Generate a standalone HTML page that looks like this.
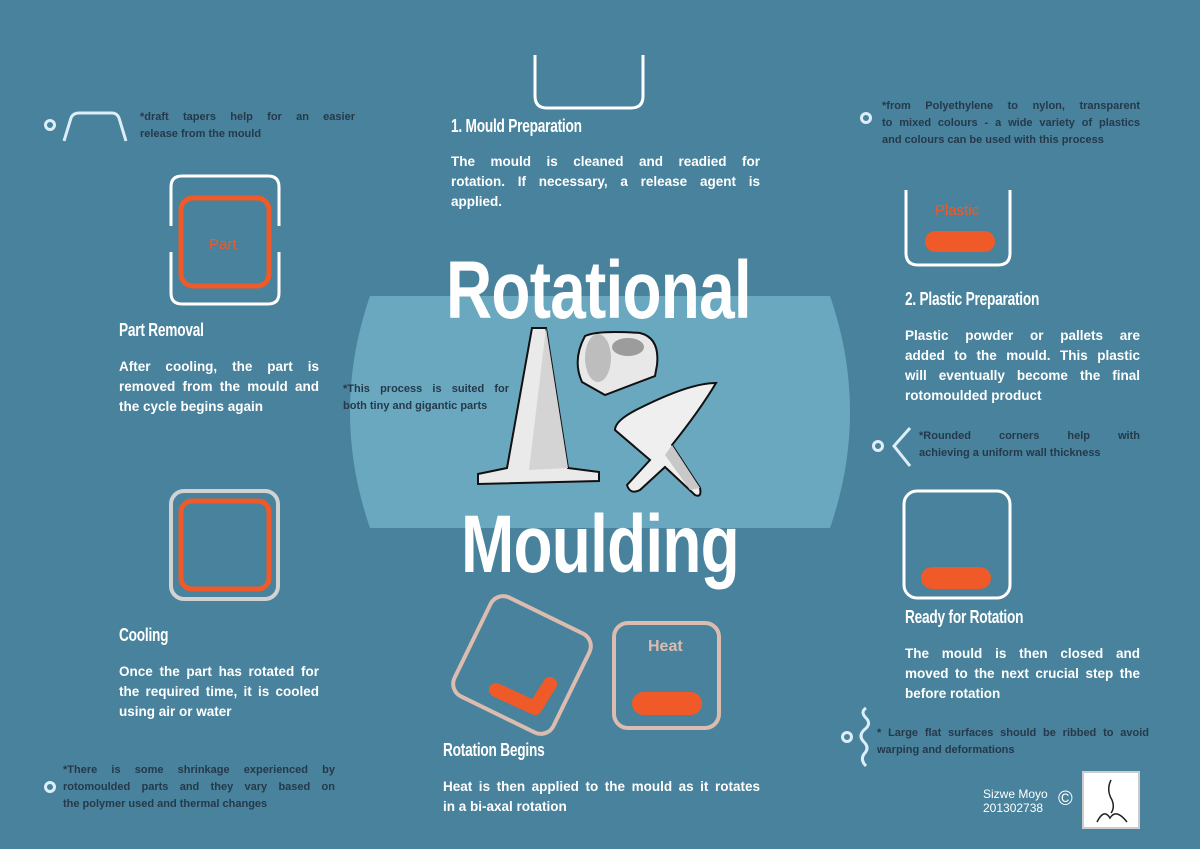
<!DOCTYPE html>
<html><head><meta charset="utf-8"><style>
*{margin:0;padding:0;box-sizing:border-box}
body{width:1200px;height:849px;background:#48829c;position:relative;overflow:hidden;font-family:"Liberation Sans",sans-serif}
.t{position:absolute;color:#fff;font-weight:bold;font-size:13.5px;line-height:20px}
.h{position:absolute;color:#fff;font-weight:bold;font-size:18px;transform:scaleX(.76);transform-origin:0 0;white-space:nowrap;letter-spacing:-.3px}
.n{position:absolute;color:#25394a;font-weight:bold;font-size:11px;line-height:17px}
.t div,.n div{white-space:nowrap;overflow:hidden}
.j{text-align:justify;text-align-last:justify;white-space:normal!important}
.big{position:absolute;color:#fff;font-weight:bold;font-size:82px;transform:scaleX(.78);transform-origin:0 0;white-space:nowrap;line-height:1;letter-spacing:-1px}
svg{position:absolute;left:0;top:0}
</style></head><body>
<svg width="1200" height="849">
<path d="M370,296 L830,296 Q870,412 830,528 L370,528 Q330,412 370,296Z" fill="#6aa8c0"/>
<path d="M535,55 V96 Q535,108 547,108 H631 Q643,108 643,96 V55" fill="none" stroke="#fff" stroke-width="3"/>
<circle cx="50" cy="125" r="4.5" fill="none" stroke="#dceef7" stroke-width="3"/>
<path d="M64,141 L71,118 Q73,113 79,113 H112 Q117,113 119,118 L126,141" fill="none" stroke="#dceef7" stroke-width="3"/>
<path d="M171,226 V187 Q171,176 182,176 H268 Q279,176 279,187 V226 M171,252 V293 Q171,304 182,304 H268 Q279,304 279,293 V252" fill="none" stroke="#fff" stroke-width="3"/>
<rect x="181" y="198" width="88" height="88" rx="12" fill="none" stroke="#f05a28" stroke-width="5"/>
<rect x="171" y="491" width="107" height="108" rx="13" fill="none" stroke="#d2d2d2" stroke-width="4"/>
<rect x="181" y="501" width="88" height="88" rx="11" fill="none" stroke="#f05a28" stroke-width="5"/>
<circle cx="50" cy="787" r="4.5" fill="none" stroke="#dceef7" stroke-width="3"/>
<circle cx="866" cy="118" r="4.5" fill="none" stroke="#dceef7" stroke-width="3"/>
<path d="M906,190 V253 Q906,265 918,265 H998 Q1010,265 1010,253 V190" fill="none" stroke="#fff" stroke-width="3"/>
<rect x="925" y="231" width="70" height="21" rx="10.5" fill="#f05a28"/>
<circle cx="878" cy="446" r="4.5" fill="none" stroke="#dceef7" stroke-width="3"/>
<path d="M910,428 L894,446 L910,466" fill="none" stroke="#dceef7" stroke-width="3"/>
<rect x="904" y="491" width="106" height="107" rx="13" fill="none" stroke="#fff" stroke-width="3"/>
<rect x="921" y="567" width="70" height="22" rx="11" fill="#f05a28"/>
<circle cx="847" cy="737" r="4.5" fill="none" stroke="#dceef7" stroke-width="3"/>
<path d="M866,708 Q860,712 866,718 Q872,724 864,730 Q858,736 864,742 Q870,748 864,754 Q860,760 866,766" fill="none" stroke="#dceef7" stroke-width="3"/>
<g transform="rotate(26 522 665)"><rect x="467" y="610" width="110" height="110" rx="14" fill="none" stroke="#dcbcb0" stroke-width="4"/></g>
<path d="M496,690 L535,708 L550,684" fill="none" stroke="#f05a28" stroke-width="14" stroke-linecap="round" stroke-linejoin="round"/>
<rect x="614" y="623" width="105" height="105" rx="14" fill="none" stroke="#dcbcb0" stroke-width="4"/>
<rect x="632" y="692" width="70" height="23" rx="11.5" fill="#f05a28"/>
<path d="M532,328 L546,328 L568,468 L599,472 L599,481 L478,484 L478,474 L507,468 Z" fill="#eaeaea" stroke="#111" stroke-width="2"/>
<path d="M546,328 L568,468 L529,470 Z" fill="#d4d4d4"/>
<path d="M585,336 Q598,330 640,333 Q660,338 657,365 L655,376 L605,395 L582,382 Q572,360 585,336Z" fill="#e8e8e8" stroke="#111" stroke-width="2"/>
<ellipse cx="598" cy="358" rx="13" ry="24" fill="#bdbdbd"/>
<ellipse cx="628" cy="347" rx="16" ry="9" fill="#9c9c9c"/>
<path d="M716,383 Q690,383 640,408 Q615,420 615,430 L650,460 L627,485 Q630,495 640,490 L665,467 L695,495 Q702,498 700,488 L672,445 Q700,410 716,383Z" fill="#efefef" stroke="#111" stroke-width="2"/>
<path d="M672,445 L700,488 L690,490 L665,455Z" fill="#c8c8c8"/>
<rect x="1083" y="772" width="56" height="56" fill="#fff" stroke="#ccc" stroke-width="2"/>
<path d="M1111,780 Q1106,790 1112,800 Q1115,808 1111,813 M1097,822 Q1104,808 1110,818 Q1116,808 1127,822" fill="none" stroke="#222" stroke-width="1.5"/>
</svg>
<div class="big" style="left:446px;top:250px">Rotational</div>
<div class="big" style="left:461px;top:504px">Moulding</div>
<div class="n" style="left:140px;top:109px;width:215px"><div class="j">*draft tapers help for an easier</div><div>release from the mould</div></div>
<div style="position:absolute;left:209px;top:236px;color:#f05a28;font-size:15px">Part</div>
<div class="h" style="left:119px;top:320px">Part Removal</div>
<div class="t" style="left:119px;top:357px;width:200px"><div class="j">After cooling, the part is</div><div class="j">removed from the mould and</div><div>the cycle begins again</div></div>
<div class="h" style="left:119px;top:625px">Cooling</div>
<div class="t" style="left:119px;top:662px;width:200px"><div class="j">Once the part has rotated for</div><div class="j">the required time, it is cooled</div><div>using air or water</div></div>
<div class="n" style="left:63px;top:762px;width:272px"><div class="j">*There is some shrinkage experienced by</div><div class="j">rotomoulded parts and they vary based on</div><div>the polymer used and thermal changes</div></div>
<div class="h" style="left:451px;top:116px">1. Mould Preparation</div>
<div class="t" style="left:451px;top:152px;width:309px"><div class="j">The mould is cleaned and readied for</div><div class="j">rotation. If necessary, a release agent is</div><div>applied.</div></div>
<div class="n" style="left:343px;top:381px;width:166px"><div class="j">*This process is suited for</div><div>both tiny and gigantic parts</div></div>
<div style="position:absolute;left:648px;top:638px;color:#dcbcb0;font-size:16px;font-weight:bold">Heat</div>
<div class="h" style="left:443px;top:740px">Rotation Begins</div>
<div class="t" style="left:443px;top:777px;width:317px"><div class="j">Heat is then applied to the mould as it rotates</div><div>in a bi-axal rotation</div></div>
<div class="n" style="left:882px;top:98px;width:258px"><div class="j">*from Polyethylene to nylon, transparent</div><div class="j">to mixed colours - a wide variety of plastics</div><div>and colours can be used with this process</div></div>
<div style="position:absolute;left:935px;top:202px;color:#f05a28;font-size:15px">Plastic</div>
<div class="h" style="left:905px;top:289px">2. Plastic Preparation</div>
<div class="t" style="left:905px;top:326px;width:235px"><div class="j">Plastic powder or pallets are</div><div class="j">added to the mould. This plastic</div><div class="j">will eventually become the final</div><div>rotomoulded product</div></div>
<div class="n" style="left:919px;top:428px;width:221px"><div class="j">*Rounded corners help with</div><div>achieving a uniform wall thickness</div></div>
<div class="h" style="left:905px;top:607px">Ready for Rotation</div>
<div class="t" style="left:905px;top:644px;width:235px"><div class="j">The mould is then closed and</div><div class="j">moved to the next crucial step the</div><div>before rotation</div></div>
<div class="n" style="left:877px;top:725px;width:272px"><div class="j">* Large flat surfaces should be ribbed to avoid</div><div>warping and deformations</div></div>
<div style="position:absolute;left:983px;top:787px;color:#fff;font-size:12px;line-height:14px">Sizwe Moyo<br>201302738</div>
<div style="position:absolute;left:1058px;top:788px;color:#fff;font-size:20px">©</div>
</body></html>
